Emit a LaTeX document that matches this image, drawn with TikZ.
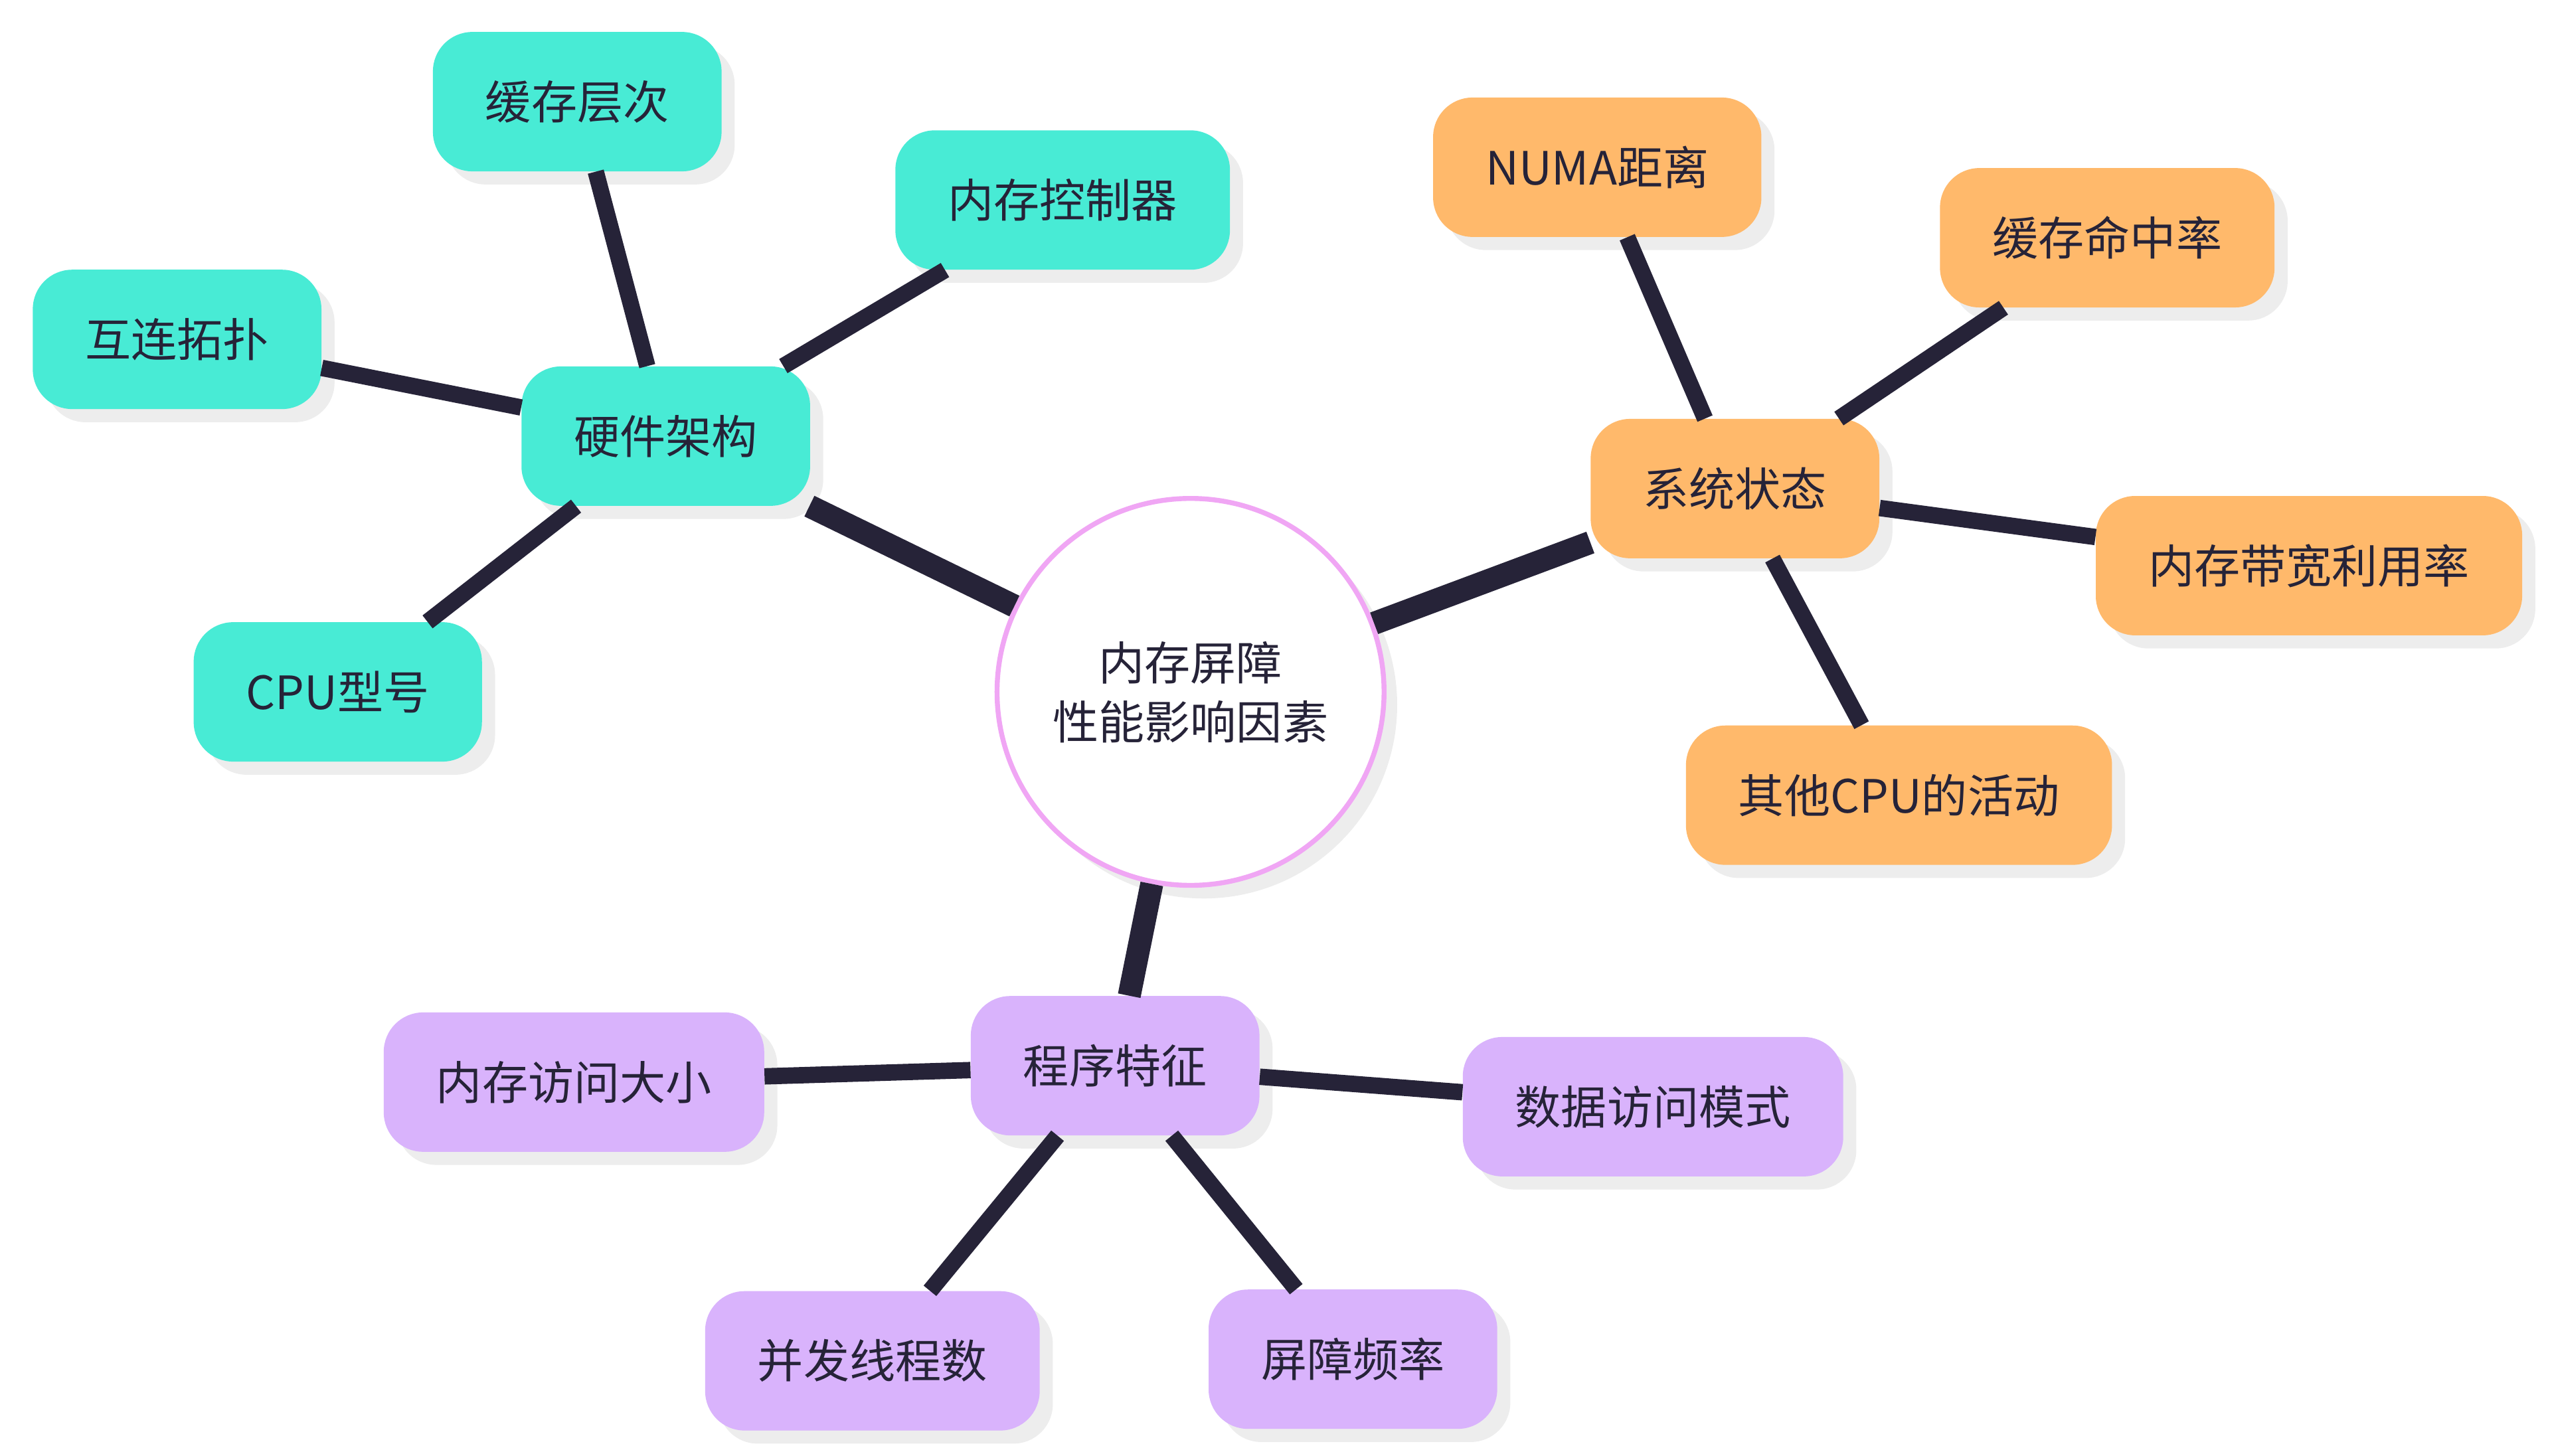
\documentclass[tikz,border=0pt]{standalone}
\usepackage{fontspec}
\setmainfont{Noto Sans CJK SC}
\usetikzlibrary{shadows}
\definecolor{teal}{HTML}{48EBD5}
\definecolor{orng}{HTML}{FFB96B}
\definecolor{purp}{HTML}{D9B3FC}
\definecolor{edge}{HTML}{262338}
\definecolor{ring}{HTML}{F0A6F4}
\begin{document}
\begin{tikzpicture}[x=1pt,y=-1pt,
 box/.style={rounded corners=24pt,minimum height=85pt,inner xsep=32pt,inner ysep=4pt,
   font=\fontsize{28}{34}\selectfont,text=edge,
   drop shadow={shadow xshift=8pt,shadow yshift=-8pt,fill=black!7,opacity=1}},
 hw/.style={box,fill=teal},
 ss/.style={box,fill=orng},
 pg/.style={box,fill=purp},
 main/.style={line width=14pt,edge},
 sub/.style={line width=10pt,edge}]
\useasboundingbox (0,0) rectangle (1555,888);
\node[circle,draw=ring,line width=3pt,fill=white,minimum size=236pt,align=center,
  font=\fontsize{28}{36}\selectfont,text=edge,
  drop shadow={shadow xshift=8pt,shadow yshift=-8pt,fill=black!7,opacity=1}] (c) at (726,422) {内存屏障\\性能影响因素};
\node[hw] (hw) at (406,266) {硬件架构};
\node[hw] (h1) at (352,62) {缓存层次};
\node[hw] (h2) at (648,122) {内存控制器};
\node[hw] (h3) at (108,207) {互连拓扑};
\node[hw] (h4) at (206,422) {CPU型号};
\node[ss] (ss) at (1058,298) {系统状态};
\node[ss] (s1) at (974,102) {NUMA距离};
\node[ss] (s2) at (1285,145) {缓存命中率};
\node[ss] (s3) at (1408,345) {内存带宽利用率};
\node[ss] (s4) at (1158,485) {其他CPU的活动};
\node[pg] (pg) at (680,650) {程序特征};
\node[pg] (p1) at (350,660) {内存访问大小};
\node[pg] (p2) at (1008,675) {数据访问模式};
\node[pg] (p3) at (532,830) {并发线程数};
\node[pg] (p4) at (825,829) {屏障频率};
\draw[main] (c) -- (hw);
\draw[main] (c) -- (ss);
\draw[main] (c) -- (pg);
\foreach \a/\b in {hw/h1,hw/h2,hw/h3,hw/h4,ss/s1,ss/s2,ss/s3,ss/s4,pg/p1,pg/p2,pg/p3,pg/p4}
  \draw[sub] (\a) -- (\b);
\end{tikzpicture}
\end{document}
